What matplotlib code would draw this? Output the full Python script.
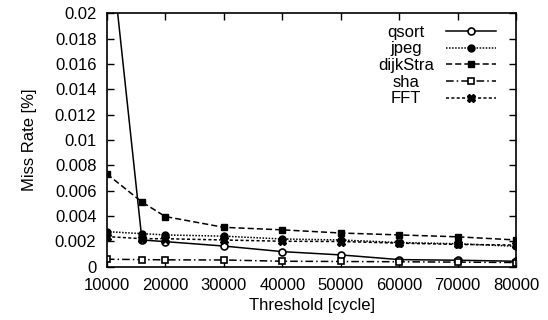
import matplotlib
matplotlib.use("Agg")
import matplotlib.pyplot as plt

plt.rcParams['font.family'] = ['Liberation Sans', 'DejaVu Sans']

# thresholds [cycle]
threshold = [10000, 16000, 20000, 30000, 40000, 50000, 60000, 70000, 80000]

# miss rate [%] per benchmark
qsort = [0.0280, 0.0021, 0.00197, 0.00162, 0.00118, 0.00092, 0.00055, 0.00050, 0.00042]
jpeg = [0.00276, 0.0026, 0.0025, 0.0024, 0.00218, 0.0021, 0.0019, 0.0018, 0.0016]
dijkstra = [0.00732, 0.0051, 0.00395, 0.0031, 0.0029, 0.00265, 0.0025, 0.00235, 0.0021]
sha = [0.00058, 0.00055, 0.00053, 0.00052, 0.00042, 0.00040, 0.00038, 0.00035, 0.00032]
fft = [0.00237, 0.0022, 0.0022, 0.0021, 0.0020, 0.00198, 0.00185, 0.00175, 0.0017]

fig = plt.figure(figsize=(5.48, 3.2), dpi=100)
ax = fig.add_axes([0.195, 0.167, 0.747, 0.791])

lw = 1.1
ms = 5
ax.plot(threshold, qsort, color='black', lw=lw, ls='-', marker='o',
        mfc='white', mec='black', ms=ms, mew=1.2, label='qsort')
ax.plot(threshold, jpeg, color='black', lw=lw, ls=(0, (1, 1)), marker='o',
        mfc='black', ms=ms, label='jpeg')
ax.plot(threshold, dijkstra, color='black', lw=lw, ls=(0, (4, 2)), marker='s',
        mfc='black', ms=ms, label='dijkStra')
ax.plot(threshold, sha, color='black', lw=lw, ls=(0, (5, 2, 1, 2)), marker='s',
        mfc='white', mec='black', ms=ms, mew=1.2, label='sha')
ax.plot(threshold, fft, color='black', lw=lw, ls=(0, (2, 1.5)), marker='X',
        mfc='black', ms=ms + 1, label='FFT')

ax.set_xlim(10000, 80000)
ax.set_ylim(0, 0.02)
ax.set_xticks(range(10000, 80001, 10000))
ax.set_yticks([i * 0.002 for i in range(11)])
ax.set_yticklabels(['0', '0.002', '0.004', '0.006', '0.008', '0.01',
                    '0.012', '0.014', '0.016', '0.018', '0.02'])
ax.tick_params(direction='in', top=True, right=True, length=5, labelsize=12,
               width=1)
ax.tick_params(axis='x', pad=8)
ax.tick_params(axis='y', pad=7.5)
for s in ax.spines.values():
    s.set_linewidth(1.2)

ax.set_xlabel('Threshold [cycle]', fontsize=12)
ax.set_ylabel('Miss Rate [%]', fontsize=12)
ax.xaxis.set_label_coords(0.5, -0.155)
ax.xaxis.label.set_va('center')
ax.yaxis.set_label_coords(-0.19, 0.5)
ax.yaxis.label.set_va('center')

leg = ax.legend(loc='upper right', markerfirst=False, frameon=False,
                fontsize=12, handlelength=3.0, labelspacing=0.1,
                borderaxespad=0.0, handletextpad=0.7, borderpad=0.0,
                bbox_to_anchor=(0.95, 0.955))
# rows right-aligned so the samples line up, then centre each label
for col in leg._legend_handle_box.get_children():
    col.align = 'right'
renderer = fig.canvas.get_renderer()
widths = [t.get_window_extent(renderer).width for t in leg.get_texts()]
for t, w in zip(leg.get_texts(), widths):
    t.set_position((-(max(widths) - w) / 2, 0))

fig.savefig('out.png', dpi=100)
